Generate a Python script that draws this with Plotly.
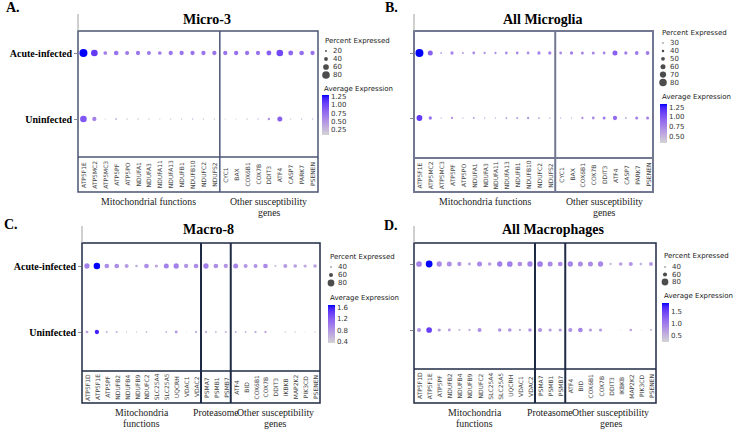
import plotly.graph_objects as go

W, H = 733, 430

# ---------------- data ----------------
rows = ["Acute-infected", "Uninfected"]

genes_AB = ["ATP5F1E", "ATP5MC2", "ATP5MC3", "ATP5PF", "ATP5PO", "NDUFA1", "NDUFA3",
            "NDUFA11", "NDUFA13", "NDUFB1", "NDUFB10", "NDUFC2", "NDUFS2",
            "CYC1", "BAX", "COX6B1", "COX7B", "DDIT3", "ATF4", "CASP7", "PARK7", "PSENEN"]
genes_CD = ["ATP5F1D", "ATP5F1E", "ATP5PF", "NDUFB2", "NDUFB4", "NDUFB9", "NDUFC2",
            "SLC25A4", "SLC25A5", "UQCRH", "VDAC1", "VDAC2",
            "PSMA7", "PSMB1", "PSMB7",
            "ATF4", "BID", "COX6B1", "COX7B", "DDIT3", "IKBKB", "MAP2K2", "PIK3CD", "PSENEN"]

# Panel A: Micro-3
pct_A_acute = [84, 70, 39, 49, 42, 45, 42, 39, 45, 45, 45, 45, 45,
               45, 45, 45, 45, 52, 70, 52, 49, 45]
pct_A_uninf = [70, 45, 13, 19, 14, 16, 14, 13, 14, 14, 16, 14, 14,
               13, 13, 14, 16, 26, 53, 14, 16, 16]
avg_A_acute = [1.31, 1.08, 0.65, 0.72, 0.68, 0.70, 0.68, 0.65, 0.70, 0.72, 0.72, 0.72, 0.72,
               0.72, 0.75, 0.72, 0.72, 0.85, 1.00, 0.80, 0.75, 0.72]
avg_A_uninf = [0.90, 0.62, 0.20, 0.30, 0.22, 0.22, 0.20, 0.20, 0.22, 0.22, 0.25, 0.20, 0.20,
               0.20, 0.18, 0.22, 0.28, 0.50, 0.85, 0.20, 0.25, 0.25]

# Panel B: All Microglia
pct_B_acute = [84, 60, 34, 46, 36, 42, 38, 38, 42, 42, 42, 46, 46,
               42, 46, 44, 44, 42, 60, 46, 50, 50]
pct_B_uninf = [66, 46, 30, 38, 30, 36, 30, 30, 34, 36, 38, 34, 32,
               30, 30, 38, 42, 44, 54, 34, 44, 44]
avg_B_acute = [1.33, 0.95, 0.60, 0.75, 0.65, 0.72, 0.70, 0.68, 0.72, 0.72, 0.72, 0.75, 0.75,
               0.72, 0.78, 0.75, 0.75, 0.75, 0.95, 0.78, 0.80, 0.80]
avg_B_uninf = [1.15, 0.85, 0.50, 0.68, 0.50, 0.62, 0.55, 0.52, 0.60, 0.65, 0.68, 0.58, 0.55,
               0.55, 0.50, 0.70, 0.72, 0.80, 0.90, 0.60, 0.78, 0.78]

# Panel C: Macro-8
pct_C_acute = [69, 78, 65, 65, 60, 50, 65, 54, 67, 69, 62, 65,
               69, 65, 62,
               67, 60, 60, 65, 45, 60, 57, 54, 57]
pct_C_uninf = [50, 62, 45, 45, 40, 40, 43, 35, 43, 52, 37, 47,
               47, 43, 45,
               45, 43, 47, 47, 35, 40, 40, 37, 40]
avg_C_acute = [0.95, 1.71, 0.85, 0.85, 0.75, 0.60, 0.85, 0.65, 0.95, 0.95, 0.80, 0.85,
               0.95, 0.85, 0.80,
               0.90, 0.78, 0.80, 0.88, 0.55, 0.75, 0.72, 0.65, 0.70]
avg_C_uninf = [0.70, 1.60, 0.55, 0.60, 0.45, 0.40, 0.45, 0.33, 0.55, 0.75, 0.40, 0.60,
               0.60, 0.55, 0.55,
               0.60, 0.55, 0.62, 0.65, 0.33, 0.45, 0.45, 0.40, 0.45]

# Panel D: All Macrophages
pct_D_acute = [72, 80, 69, 67, 62, 52, 67, 57, 69, 72, 65, 69,
               72, 67, 65,
               69, 67, 67, 69, 47, 57, 60, 50, 60]
pct_D_uninf = [60, 72, 54, 52, 45, 47, 60, 35, 57, 57, 47, 57,
               60, 54, 54,
               60, 65, 54, 54, 35, 37, 50, 37, 45]
avg_D_acute = [0.95, 1.87, 0.90, 0.85, 0.80, 0.65, 0.90, 0.70, 1.00, 1.00, 0.85, 0.95,
               1.00, 0.90, 0.88,
               0.95, 0.88, 0.88, 0.92, 0.50, 0.70, 0.80, 0.55, 0.72]
avg_D_uninf = [0.80, 1.55, 0.75, 0.72, 0.55, 0.60, 0.85, 0.35, 0.80, 0.80, 0.60, 0.80,
               0.82, 0.72, 0.72,
               0.85, 0.95, 0.72, 0.72, 0.35, 0.40, 0.65, 0.40, 0.55]

titles = ["Micro-3", "All Microglia", "Macro-8", "All Macrophages"]
letters = ["A.", "B.", "C.", "D."]
# (line 1, line 2, centre column)
groups_A = [("Mitochondrial functions", "", 6), ("Other susceptibility", "genes", 17)]
groups_B = [("Mitochondria functions", "", 6), ("Other susceptibility", "genes", 17)]
groups_CD = [("Mitochondria", "functions", 5.5), ("Proteasome", "", 13),
             ("Other susceptibility", "genes", 19)]

legend_pct_A = [20, 40, 60, 80]
legend_pct_B = [30, 40, 50, 60, 70, 80]
legend_pct_CD = [40, 60, 80]
cbar_ticks_A = [0.25, 0.50, 0.75, 1.00, 1.25]
cbar_ticks_B = [0.50, 0.75, 1.00, 1.25]
cbar_ticks_C = [0.4, 0.8, 1.2, 1.6]
cbar_ticks_D = [0.5, 1.0, 1.5]


# ---------------- colour ramp (CIELAB, like ggplot2) ----------------
def _to_lab(hexc):
    r, g, b = [int(hexc[i:i + 2], 16) / 255 for i in (1, 3, 5)]
    lin = [c / 12.92 if c <= 0.04045 else ((c + 0.055) / 1.055) ** 2.4 for c in (r, g, b)]
    X = 0.4124564 * lin[0] + 0.3575761 * lin[1] + 0.1804375 * lin[2]
    Y = 0.2126729 * lin[0] + 0.7151522 * lin[1] + 0.0721750 * lin[2]
    Z = 0.0193339 * lin[0] + 0.1191920 * lin[1] + 0.9503041 * lin[2]
    d = 6 / 29

    def f(t):
        return t ** (1 / 3) if t > d ** 3 else t / (3 * d * d) + 4 / 29
    fx, fy, fz = f(X / 0.95047), f(Y), f(Z / 1.08883)
    return 116 * fy - 16, 500 * (fx - fy), 200 * (fy - fz)


def _from_lab(L, a, b):
    d = 6 / 29
    fy = (L + 16) / 116
    fx = fy + a / 500
    fz = fy - b / 200

    def fi(t):
        return t ** 3 if t > d else 3 * d * d * (t - 4 / 29)
    X, Y, Z = 0.95047 * fi(fx), fi(fy), 1.08883 * fi(fz)
    rl = 3.2404542 * X - 1.5371385 * Y - 0.4985314 * Z
    gl = -0.9692660 * X + 1.8760108 * Y + 0.0415560 * Z
    bl = 0.0556434 * X - 0.2040259 * Y + 1.0572252 * Z
    out = []
    for c in (rl, gl, bl):
        c = min(max(c, 0), 1)
        c = 12.92 * c if c <= 0.0031308 else 1.055 * c ** (1 / 2.4) - 0.055
        out.append(round(min(max(c, 0), 1) * 255))
    return "rgb(%d,%d,%d)" % tuple(out)


lo, hi = _to_lab("#D3D3D3"), _to_lab("#0000FF")
NS = 16
colorscale = [[i / (NS - 1), _from_lab(*[lo[k] + (hi[k] - lo[k]) * i / (NS - 1) for k in range(3)])]
              for i in range(NS)]

# ---------------- layout geometry (pixels) ----------------
panels = [
    dict(genes=genes_AB, pa=pct_A_acute, pu=pct_A_uninf, aa=avg_A_acute, au=avg_A_uninf,
         x0=78, x1=318, top=31, hl=157, bot=192, ya=53, yu=119, divs=[13], ylabels=True,
         frame="#4b5573", fw=1.5, dw=1.5, title_x=207, title_y=20, letter=(13, 8),
         groups=groups_A, gy=201, size=(0.0952, 0),
         leg=legend_pct_A, leg_x=326, leg_title_y=41, leg_y0=51, leg_dy=8,
         cmin=0.07, cmax=1.31, cb_x=322, cb_top=95, cb_len=40, cb_ticks=cbar_ticks_A, cb_fmt="%.2f",
         cb_title_y=89),
    dict(genes=genes_AB, pa=pct_B_acute, pu=pct_B_uninf, aa=avg_B_acute, au=avg_B_uninf,
         x0=414, x1=653, top=31, hl=158, bot=192, ya=53, yu=118, divs=[13], ylabels=False,
         frame="#727792", fw=2, dw=2, title_x=542, title_y=20, letter=(391, 8),
         groups=groups_B, gy=201, size=(0.125, 20),
         leg=legend_pct_B, leg_x=663, leg_title_y=33, leg_y0=43, leg_dy=7.9,
         cmin=0.32, cmax=1.33, cb_x=660, cb_top=104, cb_len=39, cb_ticks=cbar_ticks_B, cb_fmt="%.2f",
         cb_title_y=97),
    dict(genes=genes_CD, pa=pct_C_acute, pu=pct_C_uninf, aa=avg_C_acute, au=avg_C_uninf,
         x0=82, x1=320, top=243, hl=371, bot=403, ya=266, yu=332, divs=[12, 15], ylabels=True,
         frame="#1f2a45", fw=1.5, dw=2, title_x=208, title_y=230, letter=(11, 224),
         groups=groups_CD, gy=412, size=(0.135, 30),
         leg=legend_pct_CD, leg_x=331, leg_title_y=257, leg_y0=267, leg_dy=8,
         cmin=0.33, cmax=1.71, cb_x=328, cb_top=305, cb_len=38, cb_ticks=cbar_ticks_C, cb_fmt="%.1f",
         cb_title_y=298),
    dict(genes=genes_CD, pa=pct_D_acute, pu=pct_D_uninf, aa=avg_D_acute, au=avg_D_uninf,
         x0=414, x1=656, top=243, hl=369, bot=403, ya=264, yu=330, divs=[12, 15], ylabels=False,
         frame="#1f2a45", fw=1.5, dw=2, title_x=553, title_y=230, letter=(391, 225),
         groups=groups_CD, gy=412, size=(0.135, 30),
         leg=legend_pct_CD, leg_x=665, leg_title_y=256, leg_y0=267, leg_dy=7.5,
         cmin=0.25, cmax=1.875, cb_x=662, cb_top=303, cb_len=39, cb_ticks=cbar_ticks_D, cb_fmt="%.1f",
         cb_title_y=296),
]


def px(x):
    return x / W


def py(y):
    return 1 - y / H


SERIF = "Liberation Serif"
SANS = "DejaVu Sans"
LEGFS = 7

fig = go.Figure()
shapes, annos = [], []
layout = dict(width=W, height=H, margin=dict(l=0, r=0, t=0, b=0, pad=0),
              paper_bgcolor="white", plot_bgcolor="rgba(0,0,0,0)", showlegend=False)

for i, p in enumerate(panels, start=1):
    n = len(p["genes"])
    k, c0 = p["size"]
    xa = "x" if i == 1 else "x%d" % i
    ya_ = "y" if i == 1 else "y%d" % i

    def dsize(v, k=k, c0=c0):
        return max(k * (v - c0), 0.6)

    xs = p["genes"] + p["genes"]
    ys = [rows[0]] * n + [rows[1]] * n
    pct = p["pa"] + p["pu"]
    avg = p["aa"] + p["au"]
    fig.add_trace(go.Scatter(
        x=xs, y=ys, mode="markers", xaxis=xa, yaxis=ya_,
        marker=dict(size=[dsize(v) for v in pct], color=avg, colorscale=colorscale,
                    cmin=p["cmin"], cmax=p["cmax"], line=dict(width=0), opacity=1,
                    showscale=True,
                    colorbar=dict(x=px(p["cb_x"]), xanchor="left", xref="paper",
                                  y=py(p["cb_top"]), yanchor="top", yref="paper",
                                  len=p["cb_len"], lenmode="pixels",
                                  thickness=7, thicknessmode="pixels",
                                  xpad=0, ypad=0, outlinewidth=0, ticks="",
                                  tickvals=p["cb_ticks"],
                                  ticktext=[p["cb_fmt"] % t for t in p["cb_ticks"]],
                                  tickfont=dict(family=SANS, size=LEGFS, color="#333333"))),
        hoverinfo="skip"))

    unit = p["yu"] - p["ya"]
    ylow = -(p["hl"] - p["yu"]) / unit
    yhigh = 1 + (p["ya"] - p["top"]) / unit
    sx = "" if i == 1 else str(i)
    layout["xaxis" + sx] = dict(domain=[px(p["x0"]), px(p["x1"])], anchor=ya_,
                                type="category", categoryorder="array", categoryarray=p["genes"],
                                range=[-0.5, n - 0.5], showticklabels=False, showgrid=False,
                                zeroline=False, showline=False, ticks="", fixedrange=True)
    layout["yaxis" + sx] = dict(domain=[py(p["hl"]), py(p["top"])], anchor=xa,
                                type="category", categoryorder="array",
                                categoryarray=[rows[1], rows[0]],
                                range=[ylow, yhigh], showgrid=False, zeroline=False,
                                showline=False, ticks="outside", ticklen=3, tickwidth=1,
                                tickcolor="#8a8a8a", showticklabels=p["ylabels"],
                                tickfont=dict(family=SERIF, size=10, color="black", weight="bold"),
                                fixedrange=True)

    # frame, separator line, group dividers, stub above the title
    shapes.append(dict(type="rect", xref="paper", yref="paper",
                       x0=px(p["x0"]), x1=px(p["x1"]), y0=py(p["bot"]), y1=py(p["top"]),
                       line=dict(color=p["frame"], width=p["fw"]), fillcolor="rgba(0,0,0,0)"))
    shapes.append(dict(type="line", xref="paper", yref="paper",
                       x0=px(p["x0"]), x1=px(p["x1"]), y0=py(p["hl"]), y1=py(p["hl"]),
                       line=dict(color=p["frame"], width=p["fw"])))
    for dv in p["divs"]:
        shapes.append(dict(type="line", xref=xa, yref="paper",
                           x0=dv - 0.5, x1=dv - 0.5, y0=py(p["bot"]), y1=py(p["top"]),
                           line=dict(color=p["frame"], width=p["dw"])))
    shapes.append(dict(type="line", xref="paper", yref="paper",
                       x0=px(p["x0"]), x1=px(p["x0"]), y0=py(p["top"]), y1=py(p["top"] - 17),
                       line=dict(color="#a0a0a0", width=1)))

    # rotated gene labels
    yc = (p["hl"] + p["bot"]) / 2
    for g in p["genes"]:
        annos.append(dict(xref=xa, yref="paper", x=g, y=py(yc), text=g, textangle=-90,
                          showarrow=False, font=dict(family=SANS, size=6, color="#444444"),
                          xanchor="center", yanchor="middle"))
    # group labels
    for l1, l2, gx in p["groups"]:
        annos.append(dict(xref=xa, yref="paper", x=gx, y=py(p["gy"]), text=l1,
                          showarrow=False, font=dict(family=SERIF, size=9.8, color="#1a1a1a"),
                          xanchor="center", yanchor="middle"))
        if l2:
            annos.append(dict(xref=xa, yref="paper", x=gx, y=py(p["gy"] + 11.5), text=l2,
                              showarrow=False, font=dict(family=SERIF, size=9.8, color="#1a1a1a"),
                              xanchor="center", yanchor="middle"))
    # title and letter
    annos.append(dict(xref="paper", yref="paper", x=px(p["title_x"]), y=py(p["title_y"]),
                      text="<b>%s</b>" % titles[i - 1], showarrow=False,
                      font=dict(family=SERIF, size=14, color="black"),
                      xanchor="center", yanchor="middle"))
    annos.append(dict(xref="paper", yref="paper", x=px(p["letter"][0]), y=py(p["letter"][1]),
                      text="<b>%s</b>" % letters[i - 1], showarrow=False,
                      font=dict(family=SERIF, size=14, color="black"),
                      xanchor="center", yanchor="middle"))

    # size legend
    annos.append(dict(xref="paper", yref="paper", x=px(p["leg_x"] - 3), y=py(p["leg_title_y"]),
                      text="Percent Expressed", showarrow=False,
                      font=dict(family=SANS, size=LEGFS, color="#1a1a1a"),
                      xanchor="left", yanchor="middle"))
    lys = [p["leg_y0"] + j * p["leg_dy"] for j in range(len(p["leg"]))]
    fig.add_trace(go.Scatter(x=[p["leg_x"]] * len(p["leg"]), y=lys, mode="markers",
                             xaxis="x5", yaxis="y5", hoverinfo="skip",
                             marker=dict(size=[dsize(v) for v in p["leg"]], color="black",
                                         line=dict(width=0))))
    for v, ly in zip(p["leg"], lys):
        annos.append(dict(xref="paper", yref="paper", x=px(p["leg_x"] + 5), y=py(ly),
                          text=str(v), showarrow=False,
                          font=dict(family=SANS, size=LEGFS, color="#333333"),
                          xanchor="left", yanchor="middle"))
    annos.append(dict(xref="paper", yref="paper", x=px(p["cb_x"]), y=py(p["cb_title_y"]),
                      text="Average Expression", showarrow=False,
                      font=dict(family=SANS, size=LEGFS, color="#1a1a1a"),
                      xanchor="left", yanchor="middle"))

layout["xaxis5"] = dict(domain=[0, 1], range=[0, W], anchor="y5", visible=False, fixedrange=True)
layout["yaxis5"] = dict(domain=[0, 1], range=[H, 0], anchor="x5", visible=False, fixedrange=True)
layout["shapes"] = shapes
layout["annotations"] = annos
fig.update_layout(**layout)
# remove the default 8px page margin so the 733x430 figure fills the window exactly
fig.write_html("out.html", config={"displayModeBar": False},
               post_script="document.body.style.margin='0';document.body.style.overflow='hidden';")
